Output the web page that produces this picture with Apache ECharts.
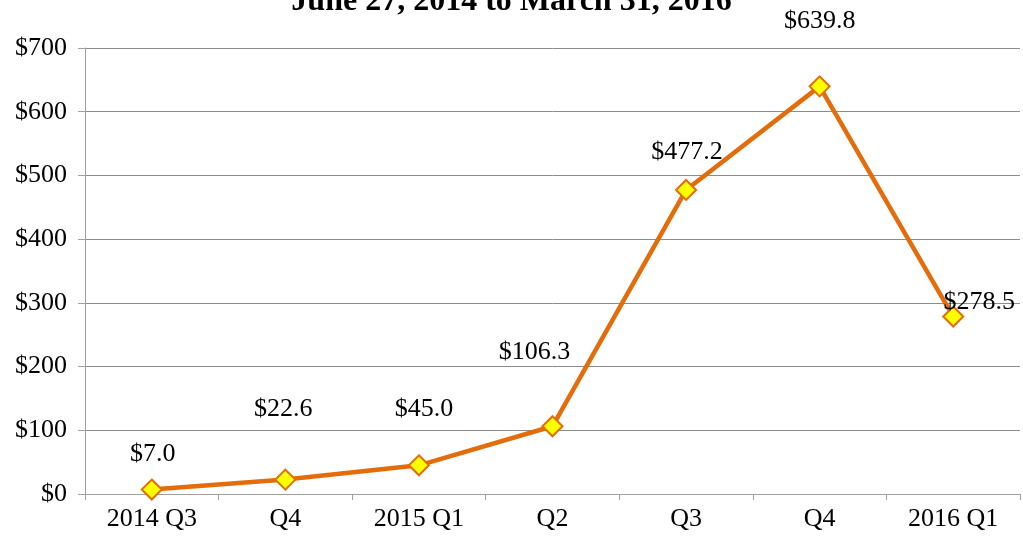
<!DOCTYPE html>
<html>
	<head>
		<meta charset="utf-8" />
		<title>Quarterly chart</title>
		<style>
			html, body {
				width: 100%;
				height: 100%;
				margin: 0;
				padding: 0;
				background: #fff;
			}
			#main {
				width: 1023px;
				height: 542px;
			}
		</style>
	</head>
	<body>
		<div id="main"></div>
		<script src="https://cdn.jsdelivr.net/npm/echarts@6/dist/echarts.min.js"></script>
		<script>
			var quarters = ['2014 Q3', 'Q4', '2015 Q1', 'Q2', 'Q3', 'Q4', '2016 Q1'];
			var amounts = [7.0, 22.6, 45.0, 106.3, 477.2, 639.8, 278.5];
			// label nudges
			var labelOffsets = [[1, -6], [-2, -41], [5, -27], [-18, -45], [1, -9], [0, -36], [26, 15]];

			var serif = "'Liberation Serif', 'Times New Roman', serif";
			var seriesData = amounts.map(function (v, i) {
				return { value: v, label: { offset: labelOffsets[i] } };
			});

			echarts.init(document.getElementById('main'), null, { renderer: 'canvas' }).setOption({
				animation: false,
				textStyle: { fontFamily: serif },
				title: {
					text: 'June 27, 2014 to March 31, 2016',
					left: 'center',
					top: -19,
					textStyle: { fontFamily: serif, fontSize: 32, fontWeight: 'bold', color: '#000' }
				},
				grid: { left: 85, right: 3, top: 48, bottom: 48 },
				xAxis: {
					type: 'category',
					data: quarters,
					axisLine: { lineStyle: { color: '#a0a0a0', width: 1 } },
					axisTick: { show: true, length: 6, lineStyle: { color: '#a0a0a0' } },
					axisLabel: { fontFamily: serif, fontSize: 26, color: '#000', margin: 12 }
				},
				yAxis: {
					type: 'value',
					min: 0,
					max: 700,
					interval: 100,
					axisLine: { show: true, lineStyle: { color: '#a0a0a0', width: 1 } },
					axisTick: { show: true, length: 7, lineStyle: { color: '#a0a0a0' } },
					axisLabel: {
						fontFamily: serif, fontSize: 26, color: '#000', margin: 18,
						formatter: function (v) { return '$' + v; }
					},
					splitLine: { lineStyle: { color: '#8c8c8c', width: 1 } }
				},
				series: [{
					type: 'line',
					data: seriesData,
					symbol: 'diamond',
					symbolSize: 20,
					lineStyle: { color: '#E46C0A', width: 4.5 },
					itemStyle: { color: '#FFFF00', borderColor: '#E46C0A', borderWidth: 2 },
					label: {
						show: true,
						position: 'top',
						fontFamily: serif,
						fontSize: 26,
						color: '#000',
						formatter: function (p) { return '$' + p.value.toFixed(1); }
					}
				}]
			});
		</script>
	</body>
</html>
